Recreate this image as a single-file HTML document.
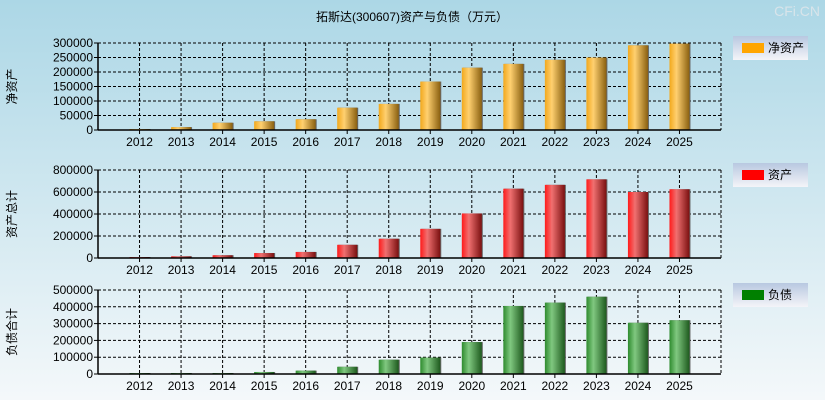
<!DOCTYPE html>
<html><head><meta charset="utf-8"><style>
body{margin:0;width:825px;height:400px;overflow:hidden;font-family:"Liberation Sans","Noto Sans CJK SC",sans-serif}
</style></head><body>
<svg id="c" width="825" height="400" xmlns="http://www.w3.org/2000/svg">
<defs>
<linearGradient id="bg" x1="0" y1="0" x2="0" y2="1"><stop offset="0" stop-color="#acd7e6"/><stop offset="1" stop-color="#f4f8fa"/></linearGradient>
<linearGradient id="g0" x1="0" x2="1"><stop offset="0" stop-color="#f2a81c"/><stop offset="0.35" stop-color="#ffd070"/><stop offset="1" stop-color="#8a6010"/></linearGradient>
<linearGradient id="g1" x1="0" x2="1"><stop offset="0" stop-color="#ff1a1a"/><stop offset="0.35" stop-color="#f07070"/><stop offset="1" stop-color="#7a1010"/></linearGradient>
<linearGradient id="g2" x1="0" x2="1"><stop offset="0" stop-color="#2e8b2e"/><stop offset="0.35" stop-color="#80c880"/><stop offset="1" stop-color="#1e5a1e"/></linearGradient>
<linearGradient id="lg" x1="0" y1="0" x2="0" y2="1"><stop offset="0" stop-color="#b8c8e0"/><stop offset="1" stop-color="#f4f4f8"/></linearGradient>
</defs>
<rect width="825" height="400" fill="url(#bg)"/>
<text x="412" y="21" font-size="12" text-anchor="middle">拓斯达(300607)资产与负债（万元）</text>
<text x="820" y="16" font-size="14" text-anchor="end" fill="#d8e4ea">CFi.CN</text>
</svg>
<script>
const years=["2012","2013","2014","2015","2016","2017","2018","2019","2020","2021","2022","2023","2024","2025"];
const netAssets=[3000,10000,25000,30000,37000,77000,90000,167000,215000,228000,242000,250000,292000,298000];
const assets=[5000,15000,25000,45000,55000,120000,175000,265000,405000,630000,665000,715000,600000,625000];
const liabilities=[2000,4000,4000,12000,20000,43000,85000,98000,190000,405000,425000,460000,305000,320000];
const ticks1=[0,50000,100000,150000,200000,250000,300000];
const ticks2=[0,200000,400000,600000,800000];
const ticks3=[0,100000,200000,300000,400000,500000];
const svg=document.getElementById('c');const NS='http://www.w3.org/2000/svg';
function mk(t,a,p){const e=document.createElementNS(NS,t);for(const k in a)e.setAttribute(k,a[k]);(p||svg).appendChild(e);return e;}
const L=98,R=721,slot=(R-L)/15;
function xc(i){return L+(i+1)*slot;}
function panel(top,bot,vals,ticks,grad,ytitle,leg,legColor,key){
  const max=ticks[ticks.length-1];
  const y=v=>bot-(v/max)*(bot-top);
  const g=mk('g',{});
  
  
  ticks.forEach(t=>{
    if(t>0){const gl=mk('line',{x1:L,x2:R,y1:y(t),y2:y(t),stroke:'#000','stroke-dasharray':'3,2','stroke-width':1},g);
    }
    mk('line',{x1:L-4,x2:L,y1:y(t),y2:y(t),stroke:'#000'},g);
    const tx=mk('text',{x:L-5,y:y(t)+4,'font-size':12,'text-anchor':'end'},g);tx.textContent=t;
    
  });
  for(let i=0;i<years.length;i++){
    const vl=mk('line',{x1:xc(i),x2:xc(i),y1:top,y2:bot,stroke:'#000','stroke-dasharray':'3,2'},g);
    
    mk('line',{x1:xc(i),x2:xc(i),y1:bot,y2:bot+4,stroke:'#000'},g);
    const tx=mk('text',{x:xc(i),y:bot+16,'font-size':12,'text-anchor':'middle'},g);tx.textContent=years[i];
    
  }
  mk('line',{x1:R,x2:R,y1:top,y2:bot,stroke:'#000','stroke-dasharray':'3,2'},g);
  mk('line',{x1:L,x2:R,y1:top,y2:top,stroke:'#000','stroke-dasharray':'3,2'},g);
  vals.forEach((v,i)=>{
    const h=Math.max(1,bot-y(v));
    mk('rect',{x:xc(i)-9,y:bot-h,width:20,height:h,fill:'#666'},g);
    const b=mk('rect',{x:xc(i)-10,y:bot-h,width:20,height:h,fill:grad},g);
    
  });
  mk('line',{x1:L,x2:L,y1:top,y2:bot,stroke:'#000','stroke-width':1.5},g);
  mk('line',{x1:L,x2:R,y1:bot,y2:bot,stroke:'#000','stroke-width':1.5},g);
  const cy=(top+bot)/2;
  const yt=mk('text',{x:16,y:cy,'font-size':12,'text-anchor':'middle',transform:`rotate(-90 16 ${cy})`},g);yt.textContent=ytitle;
  
  const lg=mk('g',{},g);
  
  const ly=top-7;
  mk('rect',{x:733,y:ly,width:75,height:24,fill:'url(#lg)'},lg);
  mk('rect',{x:742,y:ly+7,width:22,height:10,fill:legColor},lg);
  const lt=mk('text',{x:768,y:ly+16,'font-size':12},lg);lt.textContent=leg;
}
panel(43,130,netAssets,ticks1,'url(#g0)','净资产','净资产','#ffa500','net-assets');
panel(170,258,assets,ticks2,'url(#g1)','资产总计','资产','#ff0000','assets');
panel(290,374,liabilities,ticks3,'url(#g2)','负债合计','负债','#008000','liabilities');
</script>
</body></html>
